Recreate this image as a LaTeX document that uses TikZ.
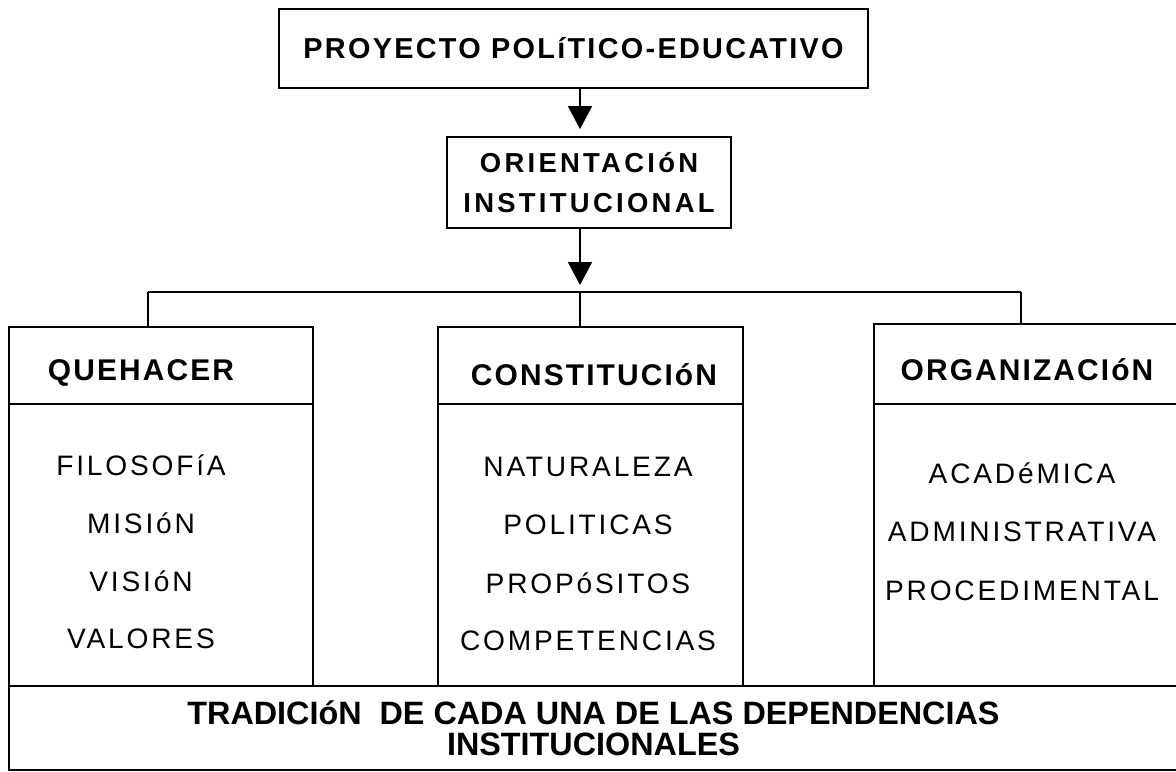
\documentclass[tikz,border=0pt]{standalone}
\usepackage{fontspec}
\setmainfont{Liberation Sans}
\usetikzlibrary{arrows.meta}
\begin{document}
\begin{tikzpicture}[x=0.025cm, y=-0.025cm, line width=1.3pt,
  box/.style = {draw, rectangle, inner sep=0pt},
  ttl/.style = {font=\bfseries\fontsize{20.5}{24}\selectfont\addfontfeature{LetterSpace=8}},
  hd/.style = {font=\bfseries\fontsize{21.3}{26}\selectfont\addfontfeature{LetterSpace=7}},
  itm/.style = {font=\fontsize{20}{24}\selectfont\addfontfeature{LetterSpace=10}},
  arr/.style = {-{Triangle[length=0.575cm, width=0.6cm]}, shorten >=0.175cm}]
\useasboundingbox (0,0) rectangle (1176,771);
\node[box, ttl, minimum width=14.725cm, minimum height=1.975cm] (proy) at (573.5,48.5) {PROYECTO POLíTICO-EDUCATIVO};
\node[box, minimum width=7.1cm, minimum height=2.275cm, align=center,
  font=\bfseries\fontsize{19.5}{28.5}\selectfont\addfontfeature{LetterSpace=12}] (orient) at (589,182.5) {ORIENTACIóN\\INSTITUCIONAL};
\coordinate (hub) at (580,292);
\draw[arr] (proy.south -| hub) -- (orient.north -| hub);
\draw[arr] (orient.south -| hub) -- (hub);
% three columns
\node[box, minimum width=7.6cm, minimum height=1.925cm] (queh) at (161,365.5) {};
\node[box, minimum width=7.6cm, minimum height=7.05cm] (quehb) at (161,545) {};
\node[box, minimum width=7.625cm, minimum height=1.925cm] (const) at (590.5,365.5) {};
\node[box, minimum width=7.625cm, minimum height=7.05cm] (constb) at (590.5,545) {};
\node[box, minimum width=7.6cm, minimum height=2cm] (organ) at (1026,364) {};
\node[box, minimum width=7.6cm, minimum height=7.05cm] (organb) at (1026,545) {};
\node[hd] (quehT) at (141,373) {QUEHACER};
\node[hd] (constT) at (594,375) {CONSTITUCIóN};
\node[hd] (organT) at (1027,370) {ORGANIZACIóN};
\foreach \t [count=\i] in {FILOSOFíA, MISIóN, VISIóN, VALORES}
  \node[itm] (q\i) at (141,{407+58*\i}) {\t};
\foreach \t [count=\i] in {NATURALEZA, POLITICAS, PROPóSITOS, COMPETENCIAS}
  \node[itm] (c\i) at (588,{409+58*\i}) {\t};
\foreach \t [count=\i] in {ACADéMICA, ADMINISTRATIVA, PROCEDIMENTAL}
  \node[itm] (o\i) at (1022,{415+58.5*\i}) {\t};
% branches
\coordinate (bl) at (148,292);
\coordinate (br) at (1021,292);
\draw (bl) -- (br);
\draw (bl) -- (bl |- queh.north);
\draw (hub) -- (hub |- const.north);
\draw (br) -- (br |- organ.north);
\node[box, minimum width=29.225cm, minimum height=2.1cm, align=center,
  font=\bfseries\fontsize{23}{21.8}\selectfont] (trad) at (593.5,728) {TRADICIóN\ \ DE CADA UNA DE LAS DEPENDENCIAS\\INSTITUCIONALES};
\end{tikzpicture}
\end{document}
